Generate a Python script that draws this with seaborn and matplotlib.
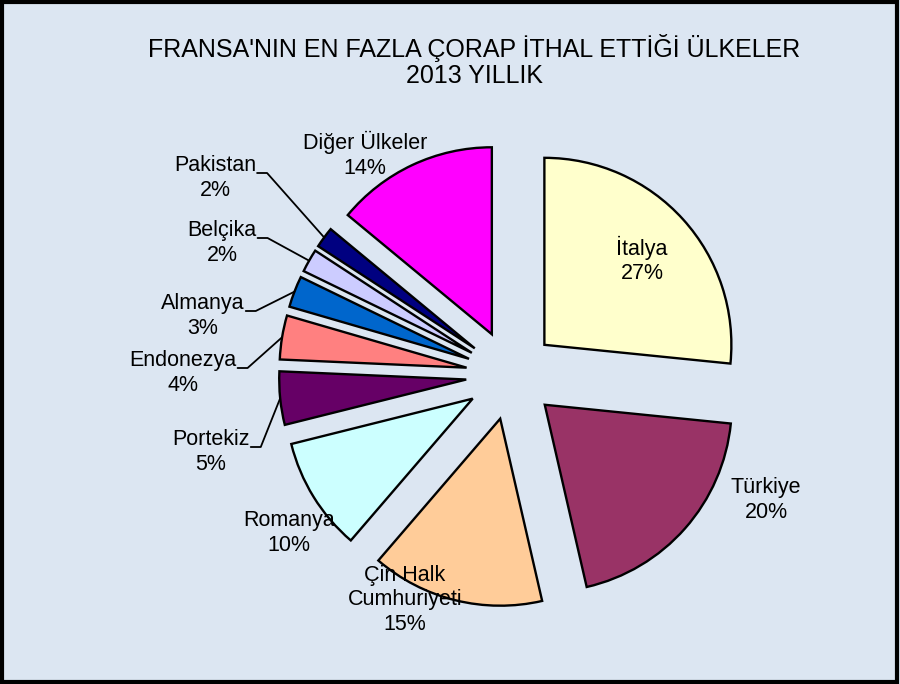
import seaborn as sns
import matplotlib.pyplot as plt
from matplotlib.patches import Rectangle
import numpy as np

# Tema
sns.set_theme(style="white")
plt.rcParams['font.family'] = ['Liberation Sans', 'DejaVu Sans']
plt.rcParams['text.color'] = 'black'

# Veriler (yuzde)
ulkeler = ["İtalya", "Türkiye", "Çin Halk\nCumhuriyeti", "Romanya", "Portekiz",
           "Endonezya", "Almanya", "Belçika", "Pakistan", "Diğer Ülkeler"]
paylar = [26.6, 19.8, 14.9, 9.8, 4.6, 3.8, 2.7, 2.0, 1.8, 14.0]
renkler = ["#FFFFCC", "#993366", "#FFCC99", "#CCFFFF", "#660066",
           "#FF8080", "#0066CC", "#CCCCFF", "#000080", "#FF00FF"]

# Etiket yerlesimi (piksel, ustten) ve kilavuz cizgisi olanlar
etiket_yeri = [(642, 260), (766, 500), (405, 600), (289, 533), (211, 452),
               (183, 373), (203, 316), (222, 243), (215, 178), (365, 155)]
kilavuz = [False, False, False, False, True, True, True, True, True, False]

W, H = 900, 684
bg = "#DCE6F2"

fig = plt.figure(figsize=(9, 6.84), dpi=100, facecolor=bg)
ax = fig.add_axes([0, 0, 1, 1])
ax.set_facecolor(bg)

wedges, _ = ax.pie(paylar, colors=renkler, startangle=90, counterclock=False,
                   explode=[45] * len(paylar), radius=187, center=(511, H - 375),
                   wedgeprops=dict(edgecolor="black", linewidth=1.7))
ax.set_xlim(0, W)
ax.set_ylim(0, H)
ax.set_aspect("equal")
ax.axis("off")

toplam = sum(paylar)
fig.canvas.draw()
renderer = fig.canvas.get_renderer()
for w, ad, pay, (lx, ly), kl in zip(wedges, ulkeler, paylar, etiket_yeri, kilavuz):
    txt = ax.text(lx, H - ly, f"{ad}\n{round(pay / toplam * 100):.0f}%",
                  ha="center", va="center", fontsize=15.5, color="black",
                  linespacing=1.22, zorder=5)
    if kl:
        bb = txt.get_window_extent(renderer).transformed(ax.transData.inverted())
        x0, y0 = bb.x1 + 1, H - ly + 5
        th = np.deg2rad((w.theta1 + w.theta2) / 2)
        cx, cy = w.center
        ex, ey = cx + w.r * np.cos(th), cy + w.r * np.sin(th)
        ax.plot([x0, x0 + 10, ex], [y0, y0, ey], color="black", lw=1.3, zorder=4)

fig.text(0.527, 1 - 61 / H, "FRANSA'NIN EN FAZLA ÇORAP İTHAL ETTİĞİ ÜLKELER\n2013 YILLIK",
         ha="center", va="center", fontsize=18, linespacing=1.15, color="black")

fig.patches.append(Rectangle((0.002, 0.003), 0.995, 0.994, transform=fig.transFigure,
                             fill=False, edgecolor="black", linewidth=3))

fig.savefig("out.png", dpi=100, facecolor=bg)
